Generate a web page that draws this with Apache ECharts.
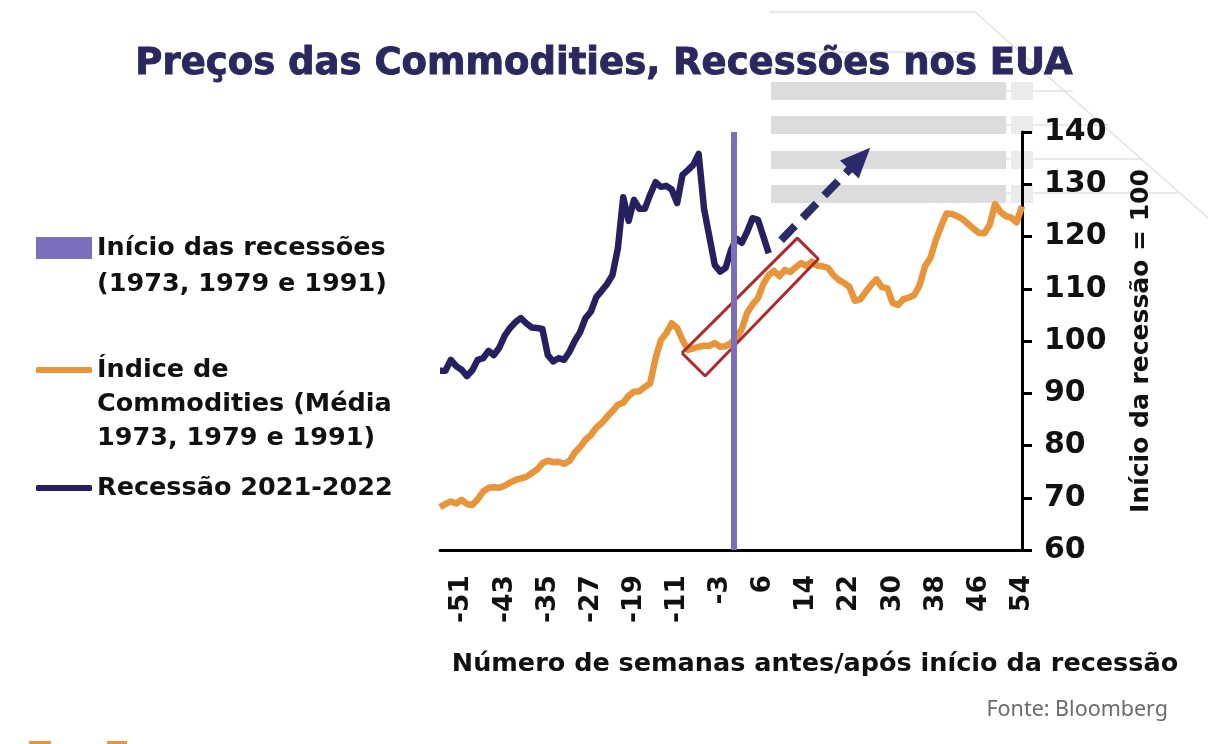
<!DOCTYPE html>
<html><head><meta charset="utf-8">
<script src="https://cdn.jsdelivr.net/npm/echarts@6/dist/echarts.min.js"></script>
<style>html,body{margin:0;padding:0;background:#fff}#c{width:1208px;height:744px}</style>
</head><body><div id="c"></div>
<script>
// ---- data ----
const weeks = ['-55','-54','-53','-52','-51','-50','-49','-48','-47','-46','-45','-44','-43','-42','-41','-40','-39','-38','-37','-36','-35','-34','-33','-32','-31','-30','-29','-28','-27','-26','-25','-24','-23','-22','-21','-20','-19','-18','-17','-16','-15','-14','-13','-12','-11','-10','-9','-8','-7','-6','-5','-4','-3','-2','-1','1','2','3','4','5','6','7','8','9','10','11','12','13','14','15','16','17','18','19','20','21','22','23','24','25','26','27','28','29','30','31','32','33','34','35','36','37','38','39','40','41','42','43','44','45','46','47','48','49','50','51','52','53','54'];
const tickLabels = ['-51','-43','-35','-27','-19','-11','-3','6','14','22','30','38','46','54'];
const commodityIndex = [68.2,68.8,69.3,68.9,69.6,68.8,68.6,69.7,71.2,71.9,72.0,71.9,72.3,72.9,73.4,73.7,74.0,74.7,75.4,76.6,77.1,76.8,76.9,76.5,77.0,78.6,79.7,81.1,82.0,83.4,84.3,85.5,86.6,87.8,88.2,89.5,90.3,90.4,91.2,91.9,96.7,100.2,101.5,103.4,102.5,100.2,98.3,98.6,98.9,99.1,99.1,99.6,98.9,99.0,99.6,100.6,102.3,105.4,107.0,108.2,110.9,112.6,113.4,112.4,113.6,113.2,114.1,114.9,114.4,115.2,114.4,114.3,114.0,112.6,111.7,111.1,110.3,107.7,108.0,109.4,110.7,111.8,110.3,110.1,107.3,106.9,108.0,108.3,108.8,110.7,114.3,115.9,119.3,122.0,124.4,124.3,123.9,123.3,122.4,121.5,120.7,120.6,122.2,126.2,124.7,123.9,123.6,122.7,125.8];
const recession2122 = [94.3,94.3,96.4,95.2,94.5,93.3,94.4,96.4,96.7,98.1,97.3,98.7,101.0,102.5,103.6,104.4,103.4,102.6,102.5,102.3,97.3,96.1,96.7,96.4,97.9,100.0,101.7,104.4,105.6,108.4,109.6,110.9,112.6,117.7,127.5,123.0,127.0,125.3,125.3,128.0,130.4,129.5,129.7,129.0,126.4,131.8,132.7,133.7,135.8,125.3,119.9,114.5,113.3,114.0,117.4,119.6,118.8,120.9,123.5,123.2,120.0,116.8];
const recessionStart = [54.5];           // between week -1 and week 1 (index scale)
const highlightBox = [[44.9,97.7],[49.2,93.3],[70.2,115.7],[66.3,119.7],[44.9,97.7]];
const trendArrow = [[63.3,119.3],[77.9,134.9]];
const yTicks = {min:60, max:140, interval:10};
const legendNames = [
  ['Início das recessões','(1973, 1979 e 1991)'],
  ['Índice de','Commodities (Média','1973, 1979 e 1991)'],
  ['Recessão 2021-2022']
];
// ---- chart ----
const FONT = 'DejaVu Sans';
const names = legendNames.map(l => l.join(' '));
const navy = '#27205e', orange = '#e8953a', purple = '#7b6fbd';
const chart = echarts.init(document.getElementById('c'), null, {renderer:'canvas'});
function legendFor(i, top, icon, h, lh){
  return {
    data:[names[i]], left:36, top:top, orient:'vertical', padding:0,
    icon:icon, itemWidth:56, itemHeight:h, selectedMode:false,
    formatter: nm => {const l = legendNames[names.indexOf(nm)]; return '\n'.repeat(l.length-1) + l.join('\n');},
    textStyle:{fontFamily:FONT, fontWeight:'bold', fontSize:25.5, color:'#111', lineHeight:lh}
  };
}
const option = {
  animation:false,
  title:{text:'Preços das Commodities, Recessões nos EUA', left:'center', top:41,
    textStyle:{fontFamily:FONT, fontWeight:'bold', fontSize:37, color:'#2b275f',
      textBorderColor:'#2b275f', textBorderWidth:0.9}},
  legend:[legendFor(0,194,'rect',22,36), legendFor(1,285,'roundRect',6,34), legendFor(2,471,'roundRect',6,34)],
  grid:{left:440, right:186, top:132, bottom:194},
  xAxis:[{
    type:'category', data:weeks, boundaryGap:false,
    axisLine:{lineStyle:{color:'#000', width:3}}, axisTick:{show:false},
    axisLabel:{rotate:90, margin:25, fontFamily:FONT, fontWeight:'bold', fontSize:26.5, color:'#111',
      interval:(idx, v) => tickLabels.includes(v)},
    name:'Número de semanas antes/após início da recessão', nameLocation:'middle', nameGap:101,
    nameTextStyle:{fontFamily:FONT, fontWeight:'bold', fontSize:25.5, color:'#111', padding:[0,0,0,168]}
  },{
    type:'value', min:0, max:weeks.length-1, show:false
  }],
  yAxis:{
    type:'value', position:'right', min:yTicks.min, max:yTicks.max, interval:yTicks.interval,
    axisLine:{show:true, onZero:false, lineStyle:{color:'#000', width:3}},
    axisTick:{show:true, length:10, lineStyle:{color:'#000', width:3}},
    splitLine:{show:false},
    axisLabel:{margin:22, fontFamily:FONT, fontWeight:'bold', fontSize:30, color:'#111'},
    name:'Início da recessão = 100', nameLocation:'middle', nameGap:107, nameRotate:90,
    nameTextStyle:{fontFamily:FONT, fontWeight:'bold', fontSize:25, color:'#111'}
  },
  series:[
    {name:names[0], type:'line', xAxisIndex:1, data:[], symbol:'none',
      itemStyle:{color:purple}, lineStyle:{color:purple},
      markLine:{silent:true, symbol:'none', label:{show:false},
        lineStyle:{color:purple, width:6, type:'solid'},
        data: recessionStart.map(v => ({xAxis:v}))}},
    {name:names[1], type:'line', data:commodityIndex, symbol:'none', z:3,
      itemStyle:{color:orange}, lineStyle:{color:orange, width:6.5, join:'round'}},
    {name:names[2], type:'line', data:recession2122, symbol:'none', z:3,
      itemStyle:{color:navy}, lineStyle:{color:navy, width:6.5, join:'round'}},
    {name:'box', type:'line', xAxisIndex:1, data:highlightBox, symbol:'none', z:4,
      lineStyle:{color:'#b0282a', width:3}, itemStyle:{color:'#b0282a'},
      markLine:{silent:true, symbol:['none','triangle'], symbolSize:[26,30], label:{show:false},
        lineStyle:{color:'#2b2a6b', width:8, type:[20,11]},
        data:[[{coord:trendArrow[0]},{coord:trendArrow[1]}]]}}
  ],
  graphic:[
    {type:'line', shape:{x1:769,y1:12,x2:975,y2:12}, style:{stroke:'#e2e2e2', lineWidth:1.5}, z:-10},
    {type:'line', shape:{x1:975,y1:12,x2:1208,y2:218}, style:{stroke:'#e2e2e2', lineWidth:1.5}, z:-10},
    {type:'line', shape:{x1:769,y1:52,x2:972,y2:52}, style:{stroke:'#e2e2e2', lineWidth:1.5}, z:-10},
    {type:'line', shape:{x1:1006,y1:91,x2:1073,y2:91}, style:{stroke:'#e2e2e2', lineWidth:1.5}, z:-10},
    {type:'line', shape:{x1:1006,y1:125,x2:1108,y2:125}, style:{stroke:'#e2e2e2', lineWidth:1.5}, z:-10},
    {type:'line', shape:{x1:1006,y1:159,x2:1143,y2:159}, style:{stroke:'#e2e2e2', lineWidth:1.5}, z:-10},
    {type:'line', shape:{x1:1006,y1:193,x2:1178,y2:193}, style:{stroke:'#e2e2e2', lineWidth:1.5}, z:-10},
    {type:'rect', shape:{x:771,y:82,width:235,height:18}, style:{fill:'#dcdcdc'}, z:-9},
    {type:'rect', shape:{x:771,y:116,width:235,height:18}, style:{fill:'#dcdcdc'}, z:-9},
    {type:'rect', shape:{x:771,y:151,width:235,height:18}, style:{fill:'#dcdcdc'}, z:-9},
    {type:'rect', shape:{x:771,y:185,width:235,height:18}, style:{fill:'#dcdcdc'}, z:-9},
    {type:'rect', shape:{x:1011,y:82,width:22,height:18}, style:{fill:'#ebebeb'}, z:-9},
    {type:'rect', shape:{x:1011,y:116,width:22,height:18}, style:{fill:'#ebebeb'}, z:-9},
    {type:'rect', shape:{x:1011,y:151,width:22,height:18}, style:{fill:'#ebebeb'}, z:-9},
    {type:'rect', shape:{x:1011,y:185,width:22,height:18}, style:{fill:'#ebebeb'}, z:-9},
    {type:'text', right:40, top:699, style:{text:'Fonte: Bloomberg', fontFamily:'Noto Sans', fontSize:21.5, fill:'#6b6b6b'}},
    {type:'rect', shape:{x:29,y:741,width:22,height:3}, style:{fill:'#e8953a'}},
    {type:'rect', shape:{x:107,y:741,width:20,height:3}, style:{fill:'#e8953a'}}
  ]
};
chart.setOption(option);
</script>
</body></html>
